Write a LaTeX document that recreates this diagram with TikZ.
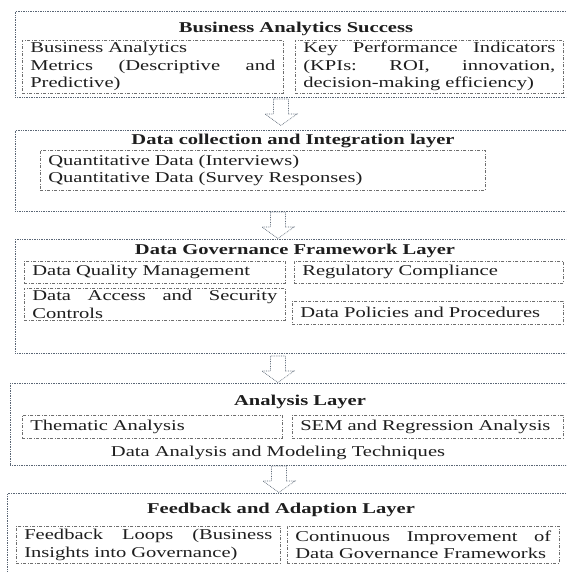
\documentclass[tikz,border=0pt]{standalone}
\usepackage{fontspec}
\setmainfont{Liberation Serif}[FakeStretch=1.37]
\usetikzlibrary{positioning}

\definecolor{framegray}{HTML}{5A6675}
\definecolor{boxgray}{HTML}{6E6E6E}
\definecolor{inkgray}{HTML}{1E1E1E}

\tikzset{
    layer/.style={draw=framegray, densely dotted, line width=0.7pt, anchor=north west, inner sep=0pt},
    part/.style={draw=boxgray, dash pattern=on 3pt off 1.6pt on 0.8pt off 1.6pt, line width=0.6pt,
        anchor=north west, inner xsep=8pt, inner ysep=0pt, align=left, text=inkgray,
        font=\fontsize{15}{17.5}\selectfont},
    heading/.style={font=\fontsize{15}{17.5}\selectfont\bfseries, text=inkgray},
    plain/.style={font=\fontsize{15}{17.5}\selectfont, text=inkgray},
    flowarrow/.style={draw=framegray, densely dotted, line width=0.7pt, fill=white}
}

\begin{document}
\begin{tikzpicture}[x=1pt, y=-1pt]
    \fill[white] (0,0) rectangle (566,572);
    \clip (0,0) rectangle (566,572);

    % layers
    \node[layer, minimum width=562pt, minimum height=86pt] (l1) at (15,11) {};
    \node[layer, minimum width=562pt, minimum height=81pt] (l2) at (15,130) {};
    \node[layer, minimum width=562pt, minimum height=114pt] (l3) at (15,239) {};
    \node[layer, minimum width=567pt, minimum height=82pt] (l4) at (10,383) {};
    \node[layer, minimum width=570pt, minimum height=90pt] (l5) at (7,493) {};

    % layer 1
    \node[heading] (t1) at (296,29) {Business Analytics Success};
    \node[part, text width=245pt, minimum height=53pt] (metrics) at (22,40)
        {Business Analytics\\
         \makebox[245pt]{Metrics\hfill (Descriptive\hfill and}\\
         Predictive)};
    \node[part, text width=252pt, minimum height=53pt] (kpi) at (295,40)
        {\makebox[252pt]{Key\hfill Performance\hfill Indicators}\\
         \makebox[252pt]{(KPIs:\hfill ROI,\hfill innovation,}\\
         decision-making efficiency)};

    % layer 2
    \node[heading] (t2) at (293,141) {Data collection and Integration layer};
    \node[part, text width=429pt, minimum height=40pt] (quant) at (40,150)
        {Quantitative Data (Interviews)\\
         Quantitative Data (Survey Responses)};

    % layer 3
    \node[heading] (t3) at (295,251) {Data Governance Framework Layer};
    \node[part, text width=245pt, minimum height=22pt] (quality) at (24,261) {Data Quality Management};
    \node[part, text width=253pt, minimum height=22pt] (regul) at (294,261) {Regulatory Compliance};
    \node[part, text width=245pt, minimum height=32pt] (access) at (24,288)
        {\makebox[245pt]{Data\hfill Access\hfill and\hfill Security}\\
         Controls};
    \node[part, text width=255pt, minimum height=23pt] (policy) at (292,301) {Data Policies and Procedures};

    % layer 4
    \node[heading] (t4) at (300,402) {Analysis Layer};
    \node[part, text width=244pt, minimum height=23pt] (thematic) at (22,415) {Thematic Analysis};
    \node[part, text width=255pt, minimum height=23pt] (sem) at (292,415) {SEM and Regression Analysis};
    \node[plain] (tech) at (278,453) {Data Analysis and Modeling Techniques};

    % layer 5
    \node[heading] (t5) at (281,510) {Feedback and Adaption Layer};
    \node[part, text width=248pt, minimum height=37pt] (loops) at (16,526)
        {\makebox[248pt]{Feedback\hfill Loops\hfill (Business}\\
         Insights into Governance)};
    \node[part, text width=256pt, minimum height=37pt] (improve) at (287,526)
        {\makebox[256pt]{Continuous\hfill Improvement\hfill of}\\
         Data Governance Frameworks};

    % block arrows between layers
    \coordinate (a1) at (281,99);
    \coordinate (a2) at (278,212);
    \coordinate (a3) at (278,356);
    \coordinate (a4) at (279,466);
    \foreach \a in {a1,a2,a3,a4}
        \draw[flowarrow] (\a) ++(-7.5,0) -- ++(0,15) -- ++(-8.5,0) -- ++(16,11.5)
            -- ++(16,-11.5) -- ++(-8.5,0) -- ++(0,-15) -- cycle;
\end{tikzpicture}
\end{document}
